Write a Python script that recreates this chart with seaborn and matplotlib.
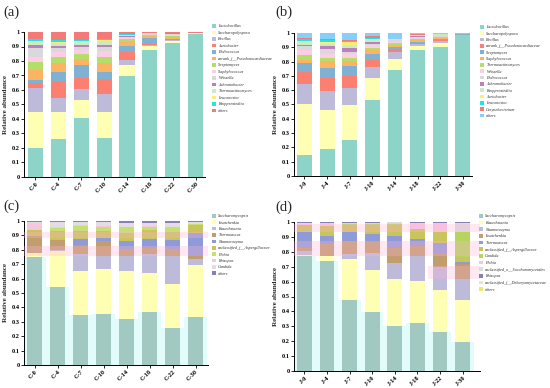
import matplotlib
matplotlib.use('Agg')
import matplotlib.pyplot as plt
import numpy as np
import seaborn as sns
from matplotlib.patches import Patch

# -- data ---------------------------------------------------------------------
a_samples = ['C-0', 'C-4', 'C-7', 'C-10', 'C-14', 'C-18', 'C-22', 'C-30']
a_taxa = ['Lactobacillus', 'Saccharopolyspora', 'Bacillus', 'Acetobacter',
          'Pediococcus', 'unrank_f__Pseudonocardiaceae', 'Streptomyces',
          'Staphylococcus', 'Weissella', 'Achromobacter', 'Thermoactinomyces',
          'Leuconostoc', 'Kroppenstedtia', 'others']
a_values = [
    [0.200, 0.260, 0.405, 0.270, 0.700, 0.878, 0.924, 0.988],
    [0.245, 0.185, 0.125, 0.175, 0.070, 0.025, 0.014, 0.002],
    [0.170, 0.100, 0.080, 0.130, 0.040, 0.007, 0.007, 0.000],
    [0.030, 0.115, 0.070, 0.100, 0.050, 0.010, 0.004, 0.000],
    [0.025, 0.062, 0.095, 0.050, 0.046, 0.040, 0.006, 0.000],
    [0.070, 0.062, 0.040, 0.058, 0.030, 0.010, 0.010, 0.000],
    [0.050, 0.042, 0.030, 0.046, 0.014, 0.007, 0.010, 0.000],
    [0.040, 0.034, 0.028, 0.040, 0.009, 0.005, 0.005, 0.000],
    [0.060, 0.030, 0.022, 0.028, 0.009, 0.008, 0.008, 0.000],
    [0.020, 0.014, 0.013, 0.016, 0.005, 0.002, 0.002, 0.000],
    [0.020, 0.018, 0.020, 0.023, 0.004, 0.002, 0.002, 0.000],
    [0.010, 0.012, 0.008, 0.009, 0.002, 0.001, 0.001, 0.000],
    [0.015, 0.008, 0.010, 0.010, 0.004, 0.001, 0.001, 0.000],
    [0.045, 0.058, 0.054, 0.045, 0.017, 0.004, 0.006, 0.010],
]

b_samples = ['J-0', 'J-4', 'J-7', 'J-10', 'J-14', 'J-18', 'J-22', 'J-30']
b_taxa = ['Lactobacillus', 'Saccharopolyspora', 'Bacillus',
          'unrank_f__Pseudonocardiaceae', 'Streptomyces', 'Staphylococcus',
          'Thermoactinomyces', 'Weissella', 'Pediococcus', 'Achromobacter',
          'Kroppenstedtia', 'Acetobacter', 'Leuconostoc', 'Corynebacterium',
          'others']
b_values = [
    [0.145, 0.190, 0.254, 0.534, 0.744, 0.879, 0.902, 0.984],
    [0.360, 0.274, 0.240, 0.151, 0.077, 0.030, 0.028, 0.002],
    [0.135, 0.128, 0.121, 0.077, 0.046, 0.016, 0.014, 0.002],
    [0.087, 0.096, 0.084, 0.052, 0.019, 0.008, 0.006, 0.001],
    [0.063, 0.070, 0.068, 0.041, 0.016, 0.007, 0.005, 0.001],
    [0.024, 0.044, 0.035, 0.024, 0.016, 0.008, 0.008, 0.001],
    [0.034, 0.023, 0.026, 0.016, 0.014, 0.007, 0.007, 0.001],
    [0.031, 0.030, 0.027, 0.019, 0.005, 0.005, 0.004, 0.001],
    [0.030, 0.035, 0.012, 0.011, 0.012, 0.015, 0.010, 0.002],
    [0.009, 0.017, 0.028, 0.014, 0.004, 0.004, 0.003, 0.000],
    [0.019, 0.018, 0.023, 0.014, 0.003, 0.003, 0.003, 0.000],
    [0.009, 0.014, 0.019, 0.007, 0.002, 0.003, 0.002, 0.000],
    [0.010, 0.010, 0.007, 0.007, 0.001, 0.002, 0.001, 0.000],
    [0.009, 0.009, 0.009, 0.010, 0.001, 0.005, 0.002, 0.000],
    [0.035, 0.042, 0.047, 0.023, 0.040, 0.008, 0.005, 0.005],
]

c_samples = a_samples
c_taxa = ['Saccharomycopsis', 'Issatchenkia', 'Kazachstania', 'Thermoascus',
          'Naumovozyma', 'unclassified_f__Aspergillaceae', 'Pichia',
          'Rhizopus', 'Candida', 'others']
c_values = [
    [0.750, 0.540, 0.350, 0.355, 0.320, 0.370, 0.255, 0.330],
    [0.025, 0.250, 0.300, 0.315, 0.330, 0.270, 0.310, 0.365],
    [0.000, 0.010, 0.120, 0.090, 0.110, 0.130, 0.195, 0.040],
    [0.120, 0.068, 0.060, 0.100, 0.045, 0.045, 0.045, 0.025],
    [0.000, 0.000, 0.045, 0.020, 0.055, 0.060, 0.060, 0.155],
    [0.045, 0.060, 0.058, 0.050, 0.060, 0.060, 0.060, 0.060],
    [0.000, 0.022, 0.032, 0.030, 0.035, 0.025, 0.030, 0.005],
    [0.045, 0.005, 0.005, 0.005, 0.005, 0.005, 0.005, 0.000],
    [0.010, 0.035, 0.020, 0.025, 0.025, 0.020, 0.025, 0.010],
    [0.005, 0.010, 0.010, 0.010, 0.015, 0.015, 0.015, 0.010],
]

d_samples = b_samples
d_taxa = ['Saccharomycopsis', 'Kazachstania', 'Naumovozyma', 'Issatchenkia',
          'Thermoascus', 'unclassified_f__Aspergillaceae', 'Candida', 'Pichia',
          'unclassified_o__Saccharomycetales', 'Rhizopus',
          'unclassified_f__Debaryomycetaceae', 'others']
d_values = [
    [0.775, 0.740, 0.475, 0.395, 0.300, 0.320, 0.260, 0.195],
    [0.005, 0.030, 0.280, 0.285, 0.315, 0.285, 0.285, 0.280],
    [0.025, 0.005, 0.030, 0.110, 0.110, 0.170, 0.155, 0.145],
    [0.020, 0.075, 0.090, 0.075, 0.100, 0.065, 0.095, 0.100],
    [0.105, 0.055, 0.060, 0.055, 0.080, 0.045, 0.065, 0.010],
    [0.050, 0.065, 0.045, 0.060, 0.075, 0.065, 0.070, 0.035],
    [0.000, 0.005, 0.005, 0.005, 0.005, 0.000, 0.000, 0.165],
    [0.005, 0.015, 0.005, 0.005, 0.010, 0.040, 0.060, 0.005],
    [0.005, 0.005, 0.005, 0.005, 0.005, 0.005, 0.005, 0.060],
    [0.010, 0.005, 0.005, 0.005, 0.000, 0.005, 0.005, 0.005],
    [0.000, 0.000, 0.000, 0.000, 0.000, 0.000, 0.000, 0.000],
    [0.000, 0.000, 0.000, 0.000, 0.000, 0.000, 0.000, 0.000],
]

# -- colours ------------------------------------------------------------------
a_colors = ['#8dd3c7', '#ffffb3', '#bebada', '#fb8072', '#80b1d3', '#fdb462',
            '#b3de69', '#fccde5', '#d9d9d9', '#bc80bd', '#ccebc5', '#ffed6f',
            '#1ce6e6', '#f47a7a']
b_colors = ['#8dd3c7', '#ffffb3', '#bebada', '#fb8072', '#80b1d3', '#fdb462',
            '#b3de69', '#fccde5', '#d9d9d9', '#bc80bd', '#ccebc5', '#ffed6f',
            '#1ce6e6', '#f47a7a', '#87cefa']
c_colors = ['#a2c8c2', '#ffffb3', '#bebada', '#c29d6e', '#8f9bd8', '#c9c45c',
            '#c5df72', '#f6c6df', '#e3dce4', '#8a7eb2']
d_colors = ['#a2c8c2', '#ffffb3', '#bebada', '#c29d6e', '#8f9bd8', '#c9c45c',
            '#b5d55e', '#f6c6df', '#dcdcdc', '#8a7eb2', '#dfe8d0', '#e8ec6a']

sns.set_theme(style='ticks')
plt.rcParams['font.family'] = ['Liberation Serif', 'DejaVu Serif']

fig = plt.figure(figsize=(5.5, 3.88), dpi=100)
W, H = 550.0, 388.0


def panel(rect_px, samples, taxa, values, colors, tag, tag_xy, xlim, legend_xy,
          rowsp, ghost=False, bands=()):
    l, t, r, b = rect_px
    ax = fig.add_axes([l / W, 1 - b / H, (r - l) / W, (b - t) / H])
    vals = np.array(values)
    cum = vals.cumsum(axis=0)
    if ghost:
        # washed-out backdrop seen behind the fungal bars
        sns.barplot(x=samples, y=vals[0], color='#e2fcfc', width=1.0,
                    saturation=1, errorbar=None, linewidth=0, ax=ax, zorder=1)
    for i in range(len(taxa) - 1, -1, -1):
        sns.barplot(x=samples, y=cum[i], color=colors[i], width=0.66,
                    saturation=1, errorbar=None, linewidth=0, ax=ax, zorder=2)
    for lo, hi, x0, x1 in bands:
        ax.axhspan(lo, hi, xmin=x0, xmax=x1, color='#ffb3d6', alpha=0.3,
                   lw=0, zorder=3)
    ax.set_xlim(*xlim)
    ax.set_ylim(0, 1)
    ax.set_yticks(np.arange(0, 1.01, 0.1))
    ax.set_yticklabels(['0', '0.1', '0.2', '0.3', '0.4', '0.5', '0.6', '0.7',
                        '0.8', '0.9', '1'], fontweight='bold')
    ax.set_xticks(range(len(samples)))
    ax.set_xticklabels(samples, rotation=45, ha='right', rotation_mode='anchor',
                       fontweight='bold')
    ax.tick_params(labelsize=4.6, width=0.6, length=2, pad=1, colors='black')
    ax.set_ylabel('Relative abundance', fontsize=5, fontweight='bold', labelpad=3)
    ax.set_xlabel('')
    for s in ['top', 'right']:
        ax.spines[s].set_visible(False)
    for s in ['left', 'bottom']:
        ax.spines[s].set_linewidth(0.7)
        ax.spines[s].set_color('black')
    fig.text(tag_xy[0] / W, 1 - tag_xy[1] / H, tag, fontsize=10.5,
             va='center', ha='left')
    handles = [Patch(facecolor=c, edgecolor='none') for c in colors]
    leg = fig.legend(handles, taxa, loc='upper left',
                     bbox_to_anchor=(legend_xy[0] / W, 1 - legend_xy[1] / H),
                     frameon=False, fontsize=3.0, handlelength=1.0,
                     handleheight=1.0, handletextpad=0.5, labelspacing=rowsp,
                     borderpad=0, borderaxespad=0)
    for txt in leg.get_texts():
        txt.set_fontstyle('italic')
    return ax


panel((24, 32, 205, 177), a_samples, a_taxa, a_values, a_colors, '(a)',
      (3, 12), (-0.5, 7.41), (212, 24), 0.53)
panel((294, 33, 472, 176), b_samples, b_taxa, b_values, b_colors, '(b)',
      (275, 12), (-0.46, 7.4), (480, 25), 0.49)
panel((24, 221, 208, 365), c_samples, c_taxa, c_values, c_colors, '(c)',
      (3, 206), (-0.46, 7.54), (212, 214), 0.5, ghost=True,
      bands=[(0.76, 0.825, 0.0, 1.0), (0.885, 0.925, 0.0, 1.0)])
panel((294, 222, 480, 371), d_samples, d_taxa, d_values, d_colors, '(d)',
      (275, 207), (-0.46, 7.77), (479, 214), 0.57, ghost=True,
      bands=[(0.77, 0.87, 0.0, 1.0), (0.93, 0.985, 0.0, 1.0),
             (0.615, 0.705, 0.72, 1.0)])

fig.savefig('out.png', dpi=100)
